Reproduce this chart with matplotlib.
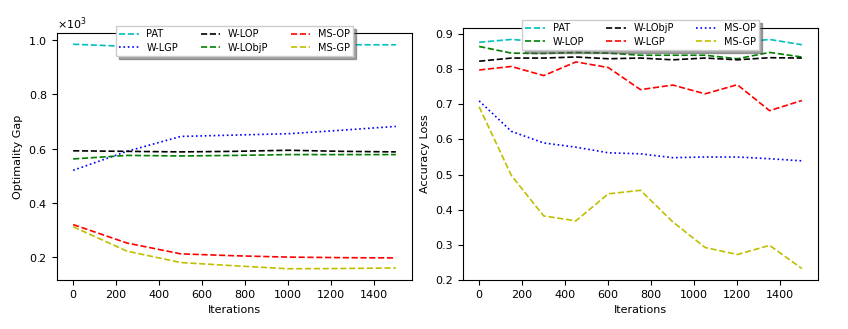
import numpy as np
import matplotlib.pyplot as plt

# ---------------- 左图: Optimality Gap ----------------
iters_l = [0, 250, 500, 750, 1000, 1250, 1500]
pat_l = [985, 977, 978, 980, 982, 983, 983]
wlgp_l = [520, 590, 645, 650, 655, 668, 682]
wlop_l = [592, 590, 588, 590, 594, 590, 588]
wlobjp_l = [562, 575, 573, 575, 578, 578, 578]
msop_l = [320, 252, 212, 205, 200, 198, 197]
msgp_l = [312, 222, 180, 168, 157, 158, 160]

# ---------------- 右图: Accuracy Loss ----------------
iters_r = [0, 150, 300, 450, 600, 750, 900, 1050, 1200, 1350, 1500]
pat_r = [0.877, 0.885, 0.878, 0.880, 0.878, 0.876, 0.876, 0.878, 0.876, 0.885, 0.870]
wlop_r = [0.865, 0.846, 0.845, 0.848, 0.846, 0.840, 0.840, 0.840, 0.830, 0.848, 0.835]
wlobjp_r = [0.823, 0.832, 0.832, 0.835, 0.830, 0.832, 0.827, 0.832, 0.827, 0.833, 0.832]
wlgp_r = [0.798, 0.808, 0.782, 0.821, 0.805, 0.742, 0.755, 0.730, 0.756, 0.682, 0.711]
msop_r = [0.710, 0.623, 0.590, 0.578, 0.562, 0.559, 0.548, 0.550, 0.550, 0.545, 0.539]
msgp_r = [0.693, 0.497, 0.382, 0.368, 0.445, 0.455, 0.365, 0.292, 0.272, 0.298, 0.232]

plt.rcParams['font.size'] = 8
plt.rcParams['lines.linewidth'] = 1.2

fig = plt.figure(figsize=(8.48, 3.29), dpi=100)
W, H = 848, 329

leg_kw = dict(ncol=3, loc='upper center', fancybox=False, shadow=True,
              framealpha=1, fontsize=7, columnspacing=2.3, borderaxespad=0,
              labelspacing=0.35, borderpad=0.35)

ax1 = fig.add_axes([57 / W, 1 - 280 / H, (412 - 57) / W, (280 - 33) / H])
ax1.plot(iters_l, pat_l, 'c--', label='PAT')
ax1.plot(iters_l, wlgp_l, 'b:', label='W-LGP')
ax1.plot(iters_l, wlop_l, 'k--', label='W-LOP')
ax1.plot(iters_l, wlobjp_l, 'g--', label='W-LObjP')
ax1.plot(iters_l, msop_l, 'r--', label='MS-OP')
ax1.plot(iters_l, msgp_l, 'y--', label='MS-GP')
ax1.ticklabel_format(axis='y', style='sci', scilimits=(3, 3), useMathText=True)
ax1.set_xlabel('Iterations')
ax1.set_ylabel('Optimality Gap')
ax1.legend(bbox_to_anchor=(0.5, 1.028), **leg_kw)

ax2 = fig.add_axes([463 / W, 1 - 280 / H, (818 - 463) / W, (280 - 28) / H])
ax2.plot(iters_r, pat_r, 'c--', label='PAT')
ax2.plot(iters_r, wlop_r, 'g--', label='W-LOP')
ax2.plot(iters_r, wlobjp_r, 'k--', label='W-LObjP')
ax2.plot(iters_r, wlgp_r, 'r--', label='W-LGP')
ax2.plot(iters_r, msop_r, 'b:', label='MS-OP')
ax2.plot(iters_r, msgp_r, 'y--', label='MS-GP')
ax2.set_xlabel('Iterations')
ax2.set_ylabel('Accuracy Loss')
ax2.legend(bbox_to_anchor=(0.5, 1.032), **leg_kw)

plt.savefig('out.png', dpi=100)
